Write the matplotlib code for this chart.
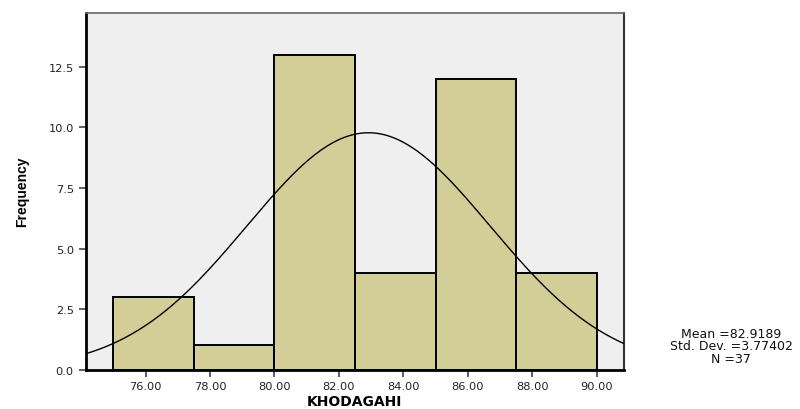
import numpy as np
import matplotlib
matplotlib.use("Agg")
from matplotlib import pyplot as plt

plt.rcParams['font.family'] = ['DejaVu Sans']

# histogram of KHODAGAHI scores
bin_edges = [75.0, 77.5, 80.0, 82.5, 85.0, 87.5, 90.0]
counts = [3, 1, 13, 4, 12, 4]
x_ticks = [76, 78, 80, 82, 84, 86, 88, 90]
y_ticks = [0.0, 2.5, 5.0, 7.5, 10.0, 12.5]

mean = 82.9189
std_dev = 3.77402
n_cases = 37

fig = plt.figure(figsize=(8, 4.1), dpi=100)
ax = fig.add_axes([0.107, 0.096, 0.673, 0.871])
ax.set_facecolor('#efefef')

widths = np.diff(bin_edges)
ax.bar(bin_edges[:-1], counts, width=widths, align='edge',
       color='#d3ce97', edgecolor='black', linewidth=1.4, zorder=2)

# normal curve scaled to counts
xs = np.linspace(74.14, 90.85, 400)
bw = bin_edges[1] - bin_edges[0]
ys = n_cases * bw / (std_dev * np.sqrt(2 * np.pi)) * np.exp(-0.5 * ((xs - mean) / std_dev) ** 2)
ax.plot(xs, ys, color='black', linewidth=1.0, zorder=3)

ax.set_xlim(74.14, 90.85)
ax.set_ylim(0, 14.74)
ax.set_xticks(x_ticks)
ax.set_xticklabels([f"{v:.2f}" for v in x_ticks])
ax.set_yticks(y_ticks)
ax.set_yticklabels([f"{v:.1f}" for v in y_ticks])
ax.tick_params(axis='both', direction='out', length=5, width=1.2,
               color='#444444', labelsize=8.2, labelcolor='#222222')

ax.spines['left'].set_linewidth(2)
ax.spines['left'].set_color('black')
ax.spines['bottom'].set_linewidth(2)
ax.spines['bottom'].set_color('black')
ax.spines['top'].set_linewidth(1.2)
ax.spines['top'].set_color('#666666')
ax.spines['right'].set_linewidth(1.5)
ax.spines['right'].set_color('#333333')

ax.set_xlabel('KHODAGAHI', fontsize=10, fontweight='bold', labelpad=2)
ax.set_ylabel('Frequency', fontsize=10, fontweight='bold',
              family=['Liberation Sans'], labelpad=14)

stats = f"Mean ={mean:.4f}\nStd. Dev. ={std_dev:.5f}\nN ={n_cases}"
fig.text(0.914, 0.154, stats, fontsize=9, ha='center', va='center',
         linespacing=0.92, color='#111111')

plt.savefig('out.png', dpi=100)
